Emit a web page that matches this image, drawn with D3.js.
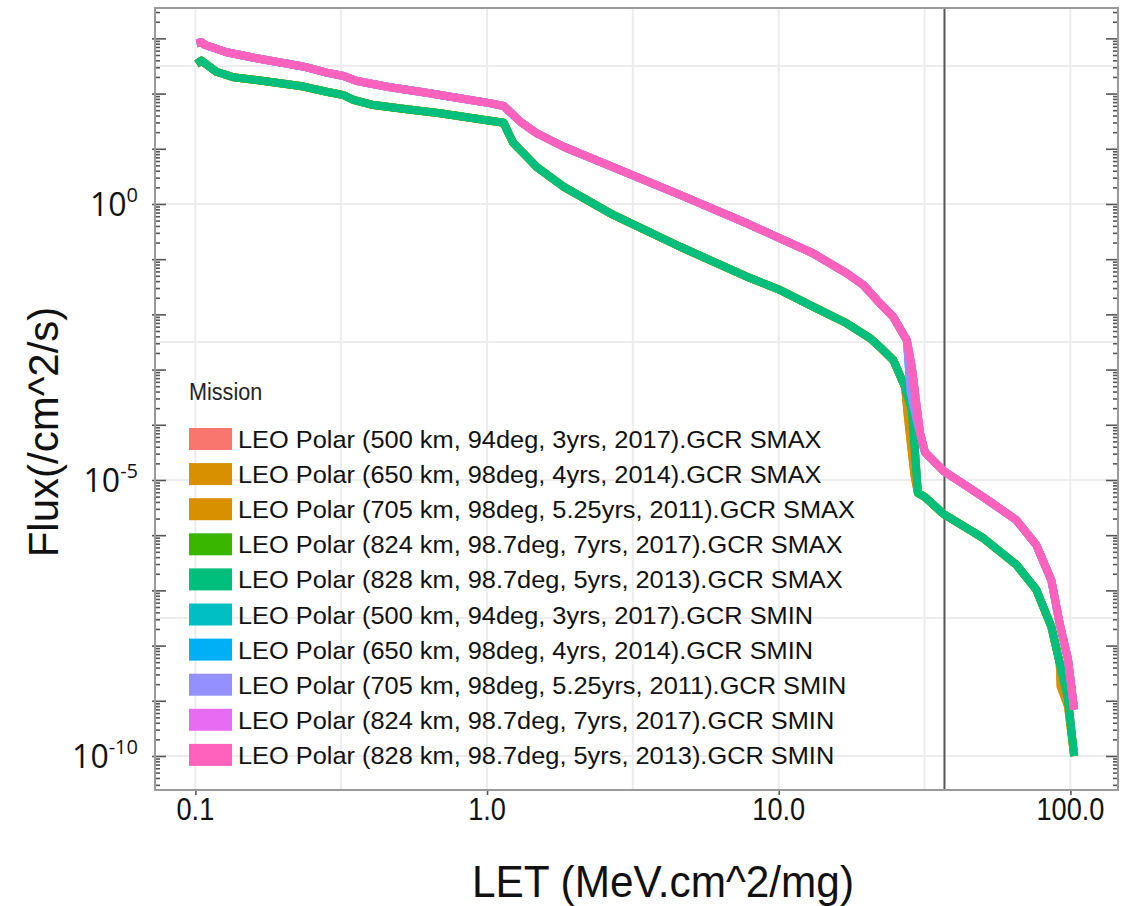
<!DOCTYPE html>
<html>
<head>
<meta charset="utf-8">
<script src="https://cdn.jsdelivr.net/npm/d3@7"></script>
<style>
  body { margin: 0; background: #fff; }
</style>
</head>
<body>
<div id="chart"></div>
<script>
// ---- data ----
var seriesNames = [
  "LEO Polar (500 km, 94deg, 3yrs, 2017).GCR SMAX",
  "LEO Polar (650 km, 98deg, 4yrs, 2014).GCR SMAX",
  "LEO Polar (705 km, 98deg, 5.25yrs, 2011).GCR SMAX",
  "LEO Polar (824 km, 98.7deg, 7yrs, 2017).GCR SMAX",
  "LEO Polar (828 km, 98.7deg, 5yrs, 2013).GCR SMAX",
  "LEO Polar (500 km, 94deg, 3yrs, 2017).GCR SMIN",
  "LEO Polar (650 km, 98deg, 4yrs, 2014).GCR SMIN",
  "LEO Polar (705 km, 98deg, 5.25yrs, 2011).GCR SMIN",
  "LEO Polar (824 km, 98.7deg, 7yrs, 2017).GCR SMIN",
  "LEO Polar (828 km, 98.7deg, 5yrs, 2013).GCR SMIN"
];
var seriesColors = ["#F8766D", "#D89000", "#D89000", "#39B600", "#00BF7D",
                    "#00BFC4", "#00B0F6", "#9590FF", "#E76BF3", "#FF62BC"];
// which curve each mission follows (the five per solar condition almost coincide)
var seriesCurve = ["smax", "smaxAlt", "smaxAlt", "smax", "smax",
                   "smin", "sminAlt", "sminAlt", "smin", "smin"];

// solar max
var letSmax = [0.101, 0.105, 0.118, 0.135, 0.162, 0.229, 0.241, 0.282, 0.322, 0.348,
  0.408, 0.531, 0.690, 0.898, 1.14, 1.17, 1.23, 1.33, 1.48, 1.83,
  2.71, 4.59, 7.77, 10.1, 13.1, 17.1, 20.6, 22.2, 24.7, 27.1,
  28.6, 29.3, 30.0, 31.7, 36.8, 50.0, 65.2, 76.4, 86.1, 91.9,
  98.1, 103];
var fluxSmax = [344, 394, 249, 197, 176, 137, 130, 108, 94, 77,
  62, 52, 44, 35.7, 29.7, 21.9, 12.7, 8.4, 4.68, 2.06,
  0.632, 0.168, 0.0482, 0.0277, 0.0138, 0.0069, 0.00369, 0.00257, 0.00149, 4.84e-4,
  1.85e-4, 3.49e-5, 5.81e-6, 4.92e-6, 2.4e-6, 9e-7, 2.93e-7, 1.03e-7, 2.16e-8, 4.84e-9,
  1.09e-9, 1.0e-10];
var letSmaxAlt = [0.101, 0.105, 0.118, 0.135, 0.162, 0.229, 0.241, 0.282, 0.322, 0.348,
  0.408, 0.531, 0.690, 0.898, 1.14, 1.17, 1.23, 1.33, 1.48, 1.83,
  2.71, 4.59, 7.77, 10.1, 13.1, 17.1, 20.6, 22.2, 24.7, 27.1,
  27.8, 29.2, 30.0, 31.7, 36.8, 50.0, 65.2, 76.4, 86.1, 91.9,
  92.6, 98.1, 103];
var fluxSmaxAlt = [344, 394, 249, 197, 176, 137, 130, 108, 94, 77,
  62, 52, 44, 35.7, 29.7, 21.9, 12.7, 8.4, 4.68, 2.06,
  0.632, 0.168, 0.0482, 0.0277, 0.0138, 0.0069, 0.00369, 0.00257, 0.00149, 4.84e-4,
  1.2e-4, 1.2e-5, 5.81e-6, 4.92e-6, 2.4e-6, 9e-7, 2.93e-7, 1.03e-7, 2.16e-8, 4.84e-9,
  1.8e-9, 8e-10, 1.0e-10];

// solar min
var letSmin = [0.101, 0.105, 0.108, 0.128, 0.162, 0.229, 0.241, 0.282, 0.322, 0.358,
  0.465, 0.605, 0.787, 1.02, 1.14, 1.30, 1.48, 1.83, 2.71, 4.59,
  7.77, 10.1, 13.1, 17.1, 19.5, 22.2, 24.7, 27.5, 28.6, 30.5,
  31.7, 36.8, 50.0, 65.2, 76.4, 86.1, 91.9, 98.1, 103];
var fluxSmin = [815, 850, 759, 560, 436, 316, 299, 239, 208, 169,
  130, 106, 84, 67, 59.6, 31, 19.1, 10.9, 4.62, 1.46,
  0.447, 0.239, 0.128, 0.0555, 0.0341, 0.016, 0.009, 0.0034, 0.0011, 7.1e-5,
  3.2e-5, 1.45e-5, 5.0e-6, 1.89e-6, 6.64e-7, 1.5e-7, 2.49e-8, 5.62e-9, 6.95e-10];
var letSminAlt = [0.101, 0.105, 0.108, 0.128, 0.162, 0.229, 0.241, 0.282, 0.322, 0.358,
  0.465, 0.605, 0.787, 1.02, 1.14, 1.30, 1.48, 1.83, 2.71, 4.59,
  7.77, 10.1, 13.1, 17.1, 19.5, 22.2, 24.7, 27.5, 28.3, 29.8,
  30.5, 31.7, 36.8, 50.0, 65.2, 76.4, 86.1, 91.9, 98.1, 103];
var fluxSminAlt = [815, 850, 759, 560, 436, 316, 299, 239, 208, 169,
  130, 106, 84, 67, 59.6, 31, 19.1, 10.9, 4.62, 1.46,
  0.447, 0.239, 0.128, 0.0555, 0.0341, 0.016, 0.009, 0.0034, 4e-4, 1.1e-4,
  7.1e-5, 3.2e-5, 1.45e-5, 5.0e-6, 1.89e-6, 6.64e-7, 1.5e-7, 2.49e-8, 5.62e-9, 6.95e-10];

var xDomain = [0.0727, 145.6];
var yDomain = [2.42e-11, 3550];
var xTickValues = [0.1, 1, 10, 100];
var xTickLabels = ["0.1", "1.0", "10.0", "100.0"];
var yLabelExps = [0, -5, -10];
var xGridValues = [0.1, 0.316, 1, 3.16, 10, 31.6, 100];
var yGridExps = [2.5, 0, -2.5, -5, -7.5, -10];
var markerLET = 37;

// ---- layout ----
var svgWidth = 1142;
var svgHeight = 906;
var margin = {top: 8, right: 24, bottom: 116, left: 155};
var width = svgWidth - margin.left - margin.right;
var height = svgHeight - margin.top - margin.bottom;

var svg = d3.select("#chart")
  .append("svg")
  .attr("width", svgWidth)
  .attr("height", svgHeight)
  .style("display", "block");

var chartGroup = svg.append("g")
  .attr("transform", `translate(${margin.left}, ${margin.top})`);

var x = d3.scaleLog().domain(xDomain).range([0, width]);
var y = d3.scaleLog().domain(yDomain).range([height, 0]);

// grid
chartGroup.append("g")
  .selectAll("line")
  .data(xGridValues)
  .enter()
  .append("line")
  .attr("x1", d => x(d)).attr("x2", d => x(d))
  .attr("y1", 0).attr("y2", height)
  .attr("stroke", "#ededed")
  .attr("stroke-width", 2);

chartGroup.append("g")
  .selectAll("line")
  .data(yGridExps)
  .enter()
  .append("line")
  .attr("x1", 0).attr("x2", width)
  .attr("y1", d => y(Math.pow(10, d))).attr("y2", d => y(Math.pow(10, d)))
  .attr("stroke", "#ededed")
  .attr("stroke-width", 2);

// marker line
chartGroup.append("line")
  .attr("x1", x(markerLET)).attr("x2", x(markerLET))
  .attr("y1", 0).attr("y2", height)
  .attr("stroke", "#555")
  .attr("stroke-width", 2);

// curves
var curves = {
  smax: d3.zip(letSmax, fluxSmax),
  smaxAlt: d3.zip(letSmaxAlt, fluxSmaxAlt),
  smin: d3.zip(letSmin, fluxSmin),
  sminAlt: d3.zip(letSminAlt, fluxSminAlt)
};

var line = d3.line()
  .x(d => x(d[0]))
  .y(d => y(d[1]));

chartGroup.append("g")
  .selectAll("path")
  .data(seriesNames)
  .enter()
  .append("path")
  .attr("d", (d, i) => line(curves[seriesCurve[i]]))
  .attr("fill", "none")
  .attr("stroke", (d, i) => seriesColors[i])
  .attr("stroke-width", 8)
  .attr("stroke-linejoin", "round");

// log ticks
var majorTicks = [];
var minorTicks = [];
for (var k = -11; k <= 3; k++) {
  majorTicks.push(Math.pow(10, k));
  for (var m = 2; m <= 9; m++) minorTicks.push(m * Math.pow(10, k));
}
majorTicks = majorTicks.filter(v => v >= yDomain[0] && v <= yDomain[1]);
minorTicks = minorTicks.filter(v => v >= yDomain[0] && v <= yDomain[1]);

function styleTicks(g) {
  g.select(".domain").remove();
  g.selectAll(".tick line").attr("stroke", "#555").attr("stroke-width", 1.6);
}

chartGroup.append("g")
  .call(d3.axisRight(y).tickValues(minorTicks).tickSize(5).tickFormat(""))
  .call(styleTicks);
chartGroup.append("g")
  .attr("transform", "translate(-3, 0)")
  .call(d3.axisRight(y).tickValues(majorTicks).tickSize(14).tickFormat(""))
  .call(styleTicks);
chartGroup.append("g")
  .attr("transform", `translate(${width}, 0)`)
  .call(d3.axisLeft(y).tickValues(minorTicks).tickSize(5).tickFormat(""))
  .call(styleTicks);
chartGroup.append("g")
  .attr("transform", `translate(${width}, 0)`)
  .call(d3.axisLeft(y).tickValues(majorTicks).tickSize(12).tickFormat(""))
  .call(styleTicks);
chartGroup.append("g")
  .attr("transform", `translate(0, ${height})`)
  .call(d3.axisBottom(x).tickValues(xTickValues).tickSize(5).tickFormat(""))
  .call(styleTicks);

// frame
chartGroup.append("rect")
  .attr("width", width)
  .attr("height", height)
  .attr("fill", "none")
  .attr("stroke", "#9a9a9a")
  .attr("stroke-width", 2);

// x tick labels
chartGroup.append("g")
  .selectAll("text")
  .data(xTickValues)
  .enter()
  .append("text")
  .attr("transform", d => `translate(${x(d)}, ${height + 30}) scale(0.85, 1)`)
  .attr("text-anchor", "middle")
  .attr("font-family", "Liberation Sans, Arial, sans-serif")
  .attr("font-size", 32)
  .attr("fill", "#111")
  .text((d, i) => xTickLabels[i]);

// y tick labels as 10^n
var yLabels = chartGroup.append("g")
  .selectAll("text")
  .data(yLabelExps)
  .enter()
  .append("text")
  .attr("x", -17)
  .attr("y", d => y(Math.pow(10, d)) + 12)
  .attr("text-anchor", "end")
  .attr("font-family", "Open Sans, sans-serif")
  .attr("font-size", 32)
  .attr("fill", "#111");
yLabels.append("tspan").text("10");
yLabels.append("tspan")
  .attr("font-size", 20)
  .attr("dy", -14)
  .text(d => d);

// axis titles
svg.append("text")
  .attr("transform", "translate(58, 432) rotate(-90)")
  .attr("text-anchor", "middle")
  .attr("font-family", "Liberation Sans, Arial, sans-serif")
  .attr("font-size", 42)
  .attr("fill", "#111")
  .text("Flux(/cm^2/s)");

svg.append("text")
  .attr("x", 472)
  .attr("y", 897)
  .attr("textLength", 382)
  .attr("lengthAdjust", "spacingAndGlyphs")
  .attr("font-family", "Liberation Sans, Arial, sans-serif")
  .attr("font-size", 44)
  .attr("fill", "#111")
  .text("LET (MeV.cm^2/mg)");

// legend
var legend = svg.append("g")
  .attr("transform", "translate(189, 439)");

legend.append("text")
  .attr("transform", "translate(0, -39) scale(0.9, 1)")
  .attr("font-family", "Liberation Sans, Arial, sans-serif")
  .attr("font-size", 24)
  .attr("fill", "#222")
  .text("Mission");

var items = legend.selectAll("g.item")
  .data(seriesNames)
  .enter()
  .append("g")
  .attr("class", "item")
  .attr("transform", (d, i) => `translate(0, ${i * 35.1})`);

items.append("rect")
  .attr("x", 0)
  .attr("y", -11)
  .attr("width", 43)
  .attr("height", 22)
  .attr("fill", (d, i) => seriesColors[i]);

var itemText = items.append("text")
  .attr("font-family", "Liberation Sans, Arial, sans-serif")
  .attr("font-size", 24)
  .attr("fill", "#111")
  .text(d => d);

// legend labels are set in a condensed face: squeeze them so the longest is 617px
var longest = d3.max(itemText.nodes(), n => n.getComputedTextLength());
var squeeze = 617 / longest;
itemText.attr("transform", `translate(49, 9) scale(${squeeze}, 1)`);
</script>
</body>
</html>
